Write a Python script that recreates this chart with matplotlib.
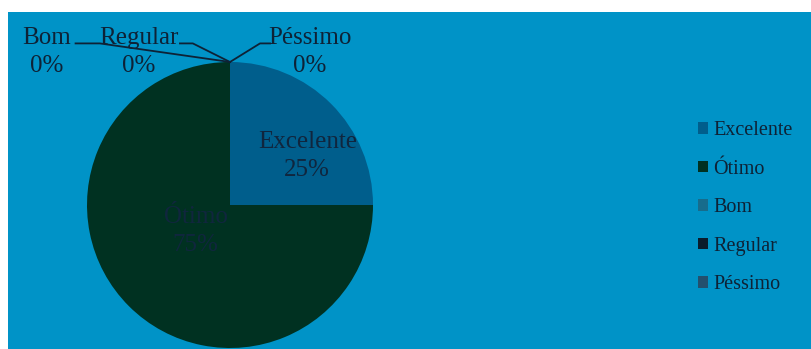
import numpy as np
import matplotlib.pyplot as plt
from matplotlib.patches import Patch, Rectangle

## categorias e percentuais
categorias = ['Excelente', 'Ótimo', 'Bom', 'Regular', 'Péssimo']
valores = [25, 75, 0, 0, 0]
cores = ['#005E8C', '#003121', '#176C8C', '#0A1C2C', '#23506E']

fundo = '#0093C7'
cor_texto = '#0E2236'
plt.rcParams['font.family'] = ['Liberation Serif', 'DejaVu Serif']

fig = plt.figure(figsize=(8.12, 3.49), dpi=100)
fig.patch.set_facecolor('white')
fig.patches.append(Rectangle((8 / 812, 0), 1, 337 / 349, transform=fig.transFigure,
                             facecolor=fundo, edgecolor='none', zorder=-10))

## pizza: centro (230,205) px, raio 143 px
ax = fig.add_axes([87 / 812, 1 / 349, 286 / 812, 286 / 349])
ax.set_facecolor('none')
wedges, _ = ax.pie(valores, colors=cores, startangle=90, counterclock=False,
                   radius=1, wedgeprops=dict(linewidth=0))
ax.set_xlim(-1, 1)
ax.set_ylim(-1, 1)
ax.set_aspect('equal')
ax.axis('off')

## rotulos dentro das fatias
pos_dentro = {'Excelente': (0.54, 0.34), 'Ótimo': (-0.24, -0.18)}
for nome, v in zip(categorias, valores):
    if nome in pos_dentro:
        x, y = pos_dentro[nome]
        ax.text(x, y, f'{nome}\n{v}%', ha='center', va='center', fontsize=18,
                color='#10263E', linespacing=1.35)

## rotulos das fatias vazias, com linhas de chamada
pos_fora = {'Bom': (-1.28, 1.07, -1.08, -0.91),
            'Regular': (-0.64, 1.07, -0.35, -0.26),
            'Péssimo': (0.56, 1.07, 0.28, 0.21)}
for w, nome, v in zip(wedges, categorias, valores):
    if nome in pos_fora:
        x, y, x1, x2 = pos_fora[nome]
        ang = np.deg2rad((w.theta1 + w.theta2) / 2)
        ax.text(x, y, f'{nome}\n{v}%', ha='center', va='center', fontsize=18,
                color=cor_texto, linespacing=1.4, clip_on=False)
        ax.plot([x1, x2, np.cos(ang)], [1.13, 1.13, np.sin(ang)], color=cor_texto,
                linewidth=1.3, clip_on=False)

## legenda
handles = [Patch(facecolor=c, edgecolor='none') for c in cores]
fig.legend(handles, categorias, loc='center left', bbox_to_anchor=(680 / 812, 0.405),
           frameon=False, fontsize=14.5, handlelength=0.5, handleheight=0.5,
           handletextpad=0.25, labelspacing=0.97, labelcolor=cor_texto)

plt.savefig('out.png', dpi=100, facecolor=fig.get_facecolor())
